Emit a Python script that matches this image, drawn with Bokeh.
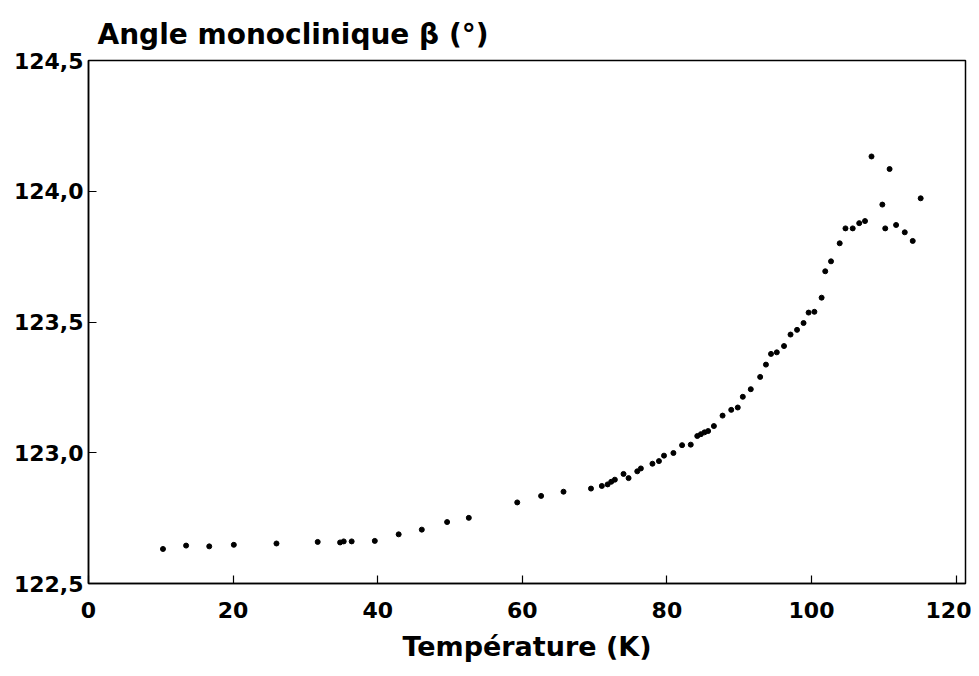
from bokeh.plotting import figure
from bokeh.models import FixedTicker, Range1d, Title
from bokeh.embed import file_html
from bokeh.resources import INLINE

temperature_K = [
    10.3, 13.5, 16.7, 20.1, 26.0, 31.7, 34.8, 35.3, 36.4, 39.6,
    42.9, 46.1, 49.6, 52.6, 59.3, 62.6, 65.7, 69.5, 71.0, 71.8,
    72.3, 72.8, 74.0, 74.7, 75.9, 76.4, 78.0, 78.9, 79.6, 80.9,
    82.1, 83.3, 84.2, 84.7, 85.2, 85.7, 86.5, 87.7, 88.9, 89.8,
    90.5, 91.6, 92.9, 93.7, 94.4, 95.2, 96.2, 97.1, 98.0, 98.9,
    99.6, 100.4, 101.4, 101.9, 102.7, 103.9, 104.7, 105.7, 106.6, 107.4,
    108.3, 109.8, 110.2, 110.8, 111.7, 112.9, 114.0, 115.1,
]
beta_deg = [
    122.632, 122.645, 122.642, 122.648, 122.653, 122.659, 122.657, 122.661, 122.661, 122.663,
    122.688, 122.706, 122.735, 122.751, 122.810, 122.835, 122.851, 122.863, 122.873, 122.879,
    122.889, 122.897, 122.919, 122.903, 122.929, 122.940, 122.958, 122.968, 122.989, 122.999,
    123.029, 123.031, 123.064, 123.071, 123.078, 123.083, 123.102, 123.142, 123.164, 123.173,
    123.214, 123.243, 123.290, 123.337, 123.378, 123.384, 123.408, 123.452, 123.470, 123.496,
    123.536, 123.539, 123.593, 123.694, 123.732, 123.801, 123.858, 123.858, 123.878, 123.886,
    124.133, 123.949, 123.858, 124.085, 123.871, 123.843, 123.810, 123.973,
]

x_ticks = [0, 20, 40, 60, 80, 100, 120]
y_ticks = [122.5, 123.0, 123.5, 124.0, 124.5]
y_tick_labels = ["122,5", "123,0", "123,5", "124,0", "124,5"]

FONT = "DejaVu Sans"

p = figure(width=971, height=668, output_backend="svg", toolbar_location=None,
           x_range=Range1d(0, 121.3), y_range=Range1d(122.5, 124.5),
           min_border_left=88, min_border_right=6, min_border_top=60, min_border_bottom=85)

p.title = Title(text="Angle monoclinique β (°)", align="left", offset=9,
                text_font=FONT, text_font_size="28px", text_font_style="bold",
                text_color="black", standoff=20)

p.scatter(temperature_K, beta_deg, size=5, color="black", marker="circle")

p.grid.visible = False
p.outline_line_color = "black"
p.outline_line_width = 1.5
p.background_fill_color = "white"
p.border_fill_color = "white"

p.xaxis.ticker = FixedTicker(ticks=x_ticks)
p.yaxis.ticker = FixedTicker(ticks=y_ticks)
p.yaxis.major_label_overrides = {t: l for t, l in zip(y_ticks, y_tick_labels)}

for ax in (p.xaxis[0], p.yaxis[0]):
    ax.axis_line_color = "black"
    ax.axis_line_width = 1.5
    ax.major_tick_in = 8
    ax.major_tick_out = 0
    ax.major_tick_line_color = "black"
    ax.major_tick_line_width = 1.2
    ax.minor_tick_line_color = None
    ax.major_label_text_font = FONT
    ax.major_label_text_font_style = "bold"
    ax.major_label_text_font_size = "22px"
    ax.major_label_text_color = "black"

p.xaxis.major_label_standoff = 18
p.yaxis.major_label_standoff = 5
p.xaxis.axis_label = "Température (K)"
p.xaxis.axis_label_text_font = FONT
p.xaxis.axis_label_text_font_style = "bold"
p.xaxis.axis_label_text_font_size = "27px"
p.xaxis.axis_label_text_color = "black"
p.xaxis.axis_label_standoff = 10

open("out.html", "w").write(file_html(p, INLINE))
